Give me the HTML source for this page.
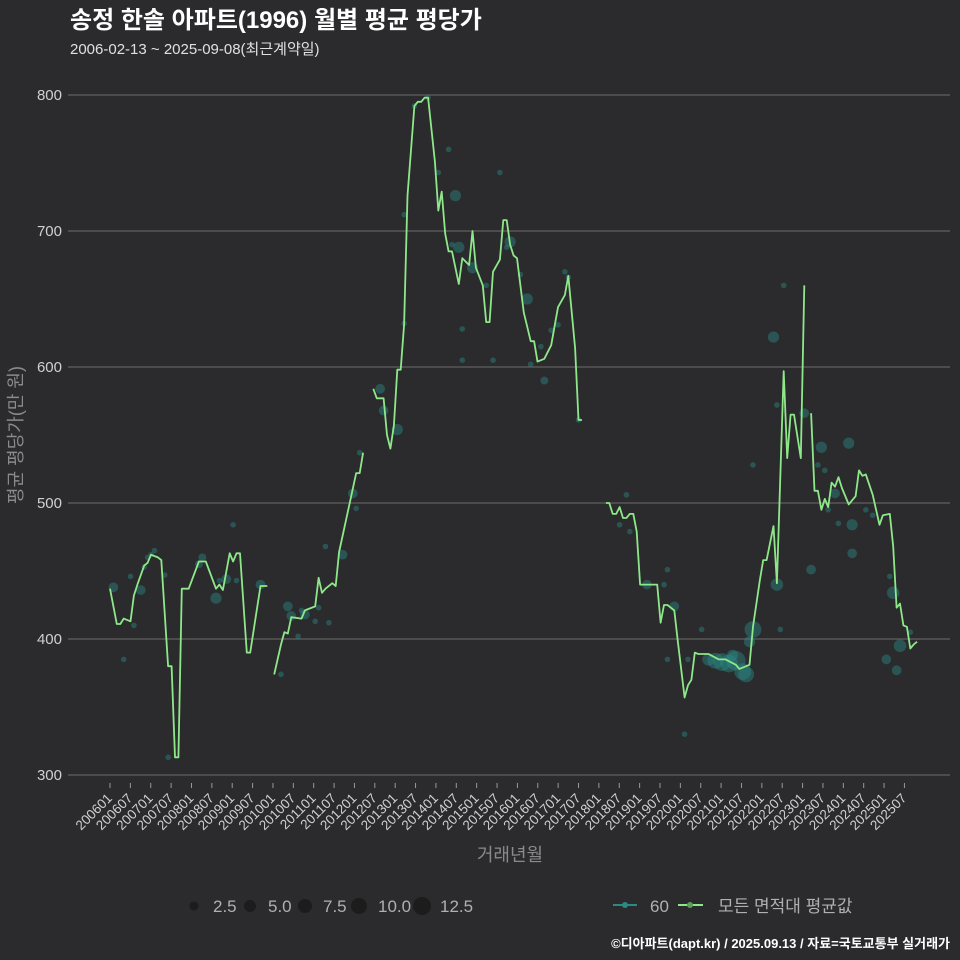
<!DOCTYPE html>
<html><head><meta charset="utf-8">
<style>
body{margin:0;background:#2b2b2d;}
svg{display:block;font-family:"Liberation Sans","Noto Sans CJK KR",sans-serif;}
</style></head>
<body>
<svg id="chart" width="960" height="960">
<rect width="960" height="960" fill="#2b2b2d"/>
<text x="70" y="28" fill="#ffffff" font-size="24" font-weight="bold">송정 한솔 아파트(1996) 월별 평균 평당가</text>
<text x="70" y="54" fill="#e0e0e0" font-size="15">2006-02-13 ~ 2025-09-08(최근계약일)</text>
<g id="grid"></g>
<g id="bubbles"></g>
<g id="line"></g>
<g id="xaxis"></g>
<text x="510" y="861" fill="#8a8a8a" font-size="18" text-anchor="middle">거래년월</text>
<text transform="translate(22,435) rotate(-90)" fill="#8a8a8a" font-size="18" text-anchor="middle">평균 평당가(만 원)</text>
<g id="legend"></g>
<text x="950" y="948" fill="#ffffff" font-size="13" font-weight="bold" text-anchor="end">©디아파트(dapt.kr) / 2025.09.13 / 자료=국토교통부 실거래가</text>
</svg>
<script>
const yTicks=[300,400,500,600,700,800];
const lineMonths=[0,2,3,4,6,7,8,10,11,12,14,15,17,18,19,20,21,22,23,26,27,28,31,32,33,35,36,37,38,40,41,44,45,46,47,
48,50,51,52,53,56,57,60,61,62,63,65,66,67,72,73,74,75,
77,78,80,81,82,83,84,85,86,87,89,90,91,92,93,95,96,97,98,99,100,102,103,105,106,107,109,110,111,112,114,115,116,117,118,119,121,123,124,125,127,129,131,133,134,136,137,138,140,
145,146,147,148,149,150,151,152,153,154,155,156,160,161,162,163,165,166,168,169,170,171,172,173,175,178,180,183,184,186,187,188,190,191,192,194,195,197,198,199,200,202,203,204,
205,206,207,208,209,210,211,212,213,214,216,218,219,220,221,223,225,226,228,229,230,231,232,233,234,235,236];
const lineValues=[437,411,411,415,413,432,440,454,456,462,460,458,380,380,313,313,437,437,437,457,457,457,437,440,436,463,457,463,463,390,390,439,439,439,null,
374,396,405,404,416,415,421,424,445,434,437,441,439,464,522,522,537,null,
584,577,577,550,540,557,598,598,631,726,792,795,795,798,798,751,715,729,698,685,685,661,680,675,700,673,660,633,633,670,679,708,708,690,682,680,640,619,619,604,606,616,644,653,667,614,561,561,null,
500,500,492,492,497,489,489,492,492,479,440,440,440,412,425,425,421,399,357,366,370,390,389,389,389,385,385,381,378,380,381,409,443,458,458,483,441,597,533,565,565,533,660,null,
566,509,509,495,503,497,515,512,519,511,499,505,524,520,521,506,484,491,492,468,423,426,410,409,393,396,398];
const bubbleMonths=[1,4,6,7,9,10,11,12,13,16,17,26,27,31,32,34,36,37,44,50,52,53,55,56,57,60,61,63,64,68,71,72,73,79,80,84,86,86,89,93,96,99,100,101,102,103,103,106,110,112,114,117,116,120,122,123,126,127,129,131,133,134,137,151,149,152,163,162,157,165,173,163,168,169,175,177,179,181,183,185,186,182,188,187,195,194,197,195,188,203,208,216,207,209,210,212,217,205,196,228,229,227,230,231,234,221,223,217,213];
const bubbleValues=[438,385,446,410,436,453,460,462,465,447,313,455,460,430,443,444,484,443,440,374,424,417,402,421,418,413,423,468,412,462,507,496,537,584,568,554,632,712,792,798,743,760,690,726,688,605,628,673,660,605,743,692,688,668,650,602,615,590,627,631,670,666,561,506,484,479,451,440,440,424,407,385,330,385,385,384,383,382,384,376,374,388,407,398,440,622,660,572,528,566,541,544,528,524,495,507,463,451,407,446,434,385,377,395,405,495,491,484,485];
const bubbleCounts=[3,1,1,1,3,1,1,1,1,1,1,2,2,4,1,3,1,1,3,1,3,3,1,1,3,1,1,1,1,3,3,1,1,3,3,4,1,1,1,1,1,1,1,4,4,1,1,4,1,1,1,4,1,1,4,1,1,2,1,1,1,1,1,1,1,1,1,1,3,3,1,1,1,1,5,8,10,10,12,9,8,4,9,4,5,4,1,1,1,3,4,4,1,1,1,3,3,3,1,1,5,3,3,5,1,1,1,4,1];
const xTickLabels=[];for(let y=2006;y<=2025;y++){xTickLabels.push(y+"01");xTickLabels.push(y+"07");}
const NS="http://www.w3.org/2000/svg";
const X=m=>110+m*3.42;
const XT=m=>110+m*3.395;
const Y=v=>775-(v-300)*1.36;
function mk(tag,attrs,parent){const e=document.createElementNS(NS,tag);for(const k in attrs)e.setAttribute(k,attrs[k]);parent.appendChild(e);return e;}
const grid=document.getElementById('grid');
yTicks.forEach(t=>{
 const l=mk('line',{x1:68,x2:950,y1:Y(t),y2:Y(t),stroke:'#5f5f5f','stroke-width':1.2},grid);
 
 
 const tx=mk('text',{x:62,y:Y(t)+5,fill:'#d0d0d0','font-size':15,'text-anchor':'end'},grid);
 tx.textContent=t;
 
 
});
const xa=document.getElementById('xaxis');
xTickLabels.forEach((lab,i)=>{
 const m=(parseInt(lab.slice(0,4))-2006)*12+parseInt(lab.slice(4))-1;
 if(m>236)return;
 const x=XT(m);
 const tk=mk('line',{x1:x,x2:x,y1:783,y2:788,stroke:'#9a9a9a','stroke-width':1},xa);
 
 
 const tx=mk('text',{transform:`translate(${x+3},${799}) rotate(-45)`,fill:'#d0d0d0','font-size':13.5,'text-anchor':'end'},xa);
 tx.textContent=lab;
 
 
});
const bg=document.getElementById('bubbles');
bubbleMonths.forEach((m,i)=>{
 const c=mk('circle',{cx:X(m),cy:Y(bubbleValues[i]),r:2.8*Math.sqrt(bubbleCounts[i]),fill:'#2a8a86','fill-opacity':0.45},bg);
 
 
});
const lg=document.getElementById('line');
let segs=[],cur=[];
lineMonths.forEach((m,i)=>{const v=lineValues[i];if(v===null){if(cur.length)segs.push(cur);cur=[];}else cur.push(X(m).toFixed(1)+','+Y(v).toFixed(1));});
if(cur.length)segs.push(cur);
segs.forEach((s,i)=>{
 const p=mk('polyline',{points:s.join(' '),fill:'none',stroke:'#8ee88a','stroke-width':1.8,'stroke-linejoin':'round'},lg);
 
 
});
const leg=document.getElementById('legend');
const legSizes=[2.5,5.0,7.5,10.0,12.5];
const legX=[194,250,305,359,422];
const legLX=[213,268,323,378,440];
const legR=[4.5,6,7,8,9];
legSizes.forEach((s,i)=>{
 const c=mk('circle',{cx:legX[i],cy:906,r:legR[i],fill:'#1c1c1c'},leg);
 
 
 const t=mk('text',{x:legLX[i],y:912,fill:'#b0b0b0','font-size':17},leg);
 t.textContent=s.toFixed(1);
 
 
});
const l1=mk('line',{x1:613,x2:637,y1:905,y2:905,stroke:'#2a8a86','stroke-width':2},leg);


const d1=mk('circle',{cx:625,cy:905,r:3,fill:'#2a8a86'},leg);


const t1=mk('text',{x:650,y:912,fill:'#b0b0b0','font-size':17},leg);
t1.textContent='60';


const l2=mk('line',{x1:678,x2:703,y1:905,y2:905,stroke:'#8ee88a','stroke-width':2},leg);


const d2=mk('circle',{cx:690,cy:905,r:3,fill:'#5aa05a'},leg);


const t2=mk('text',{x:718,y:912,fill:'#b0b0b0','font-size':17},leg);
t2.textContent='모든 면적대 평균값';


</script>
</body></html>
